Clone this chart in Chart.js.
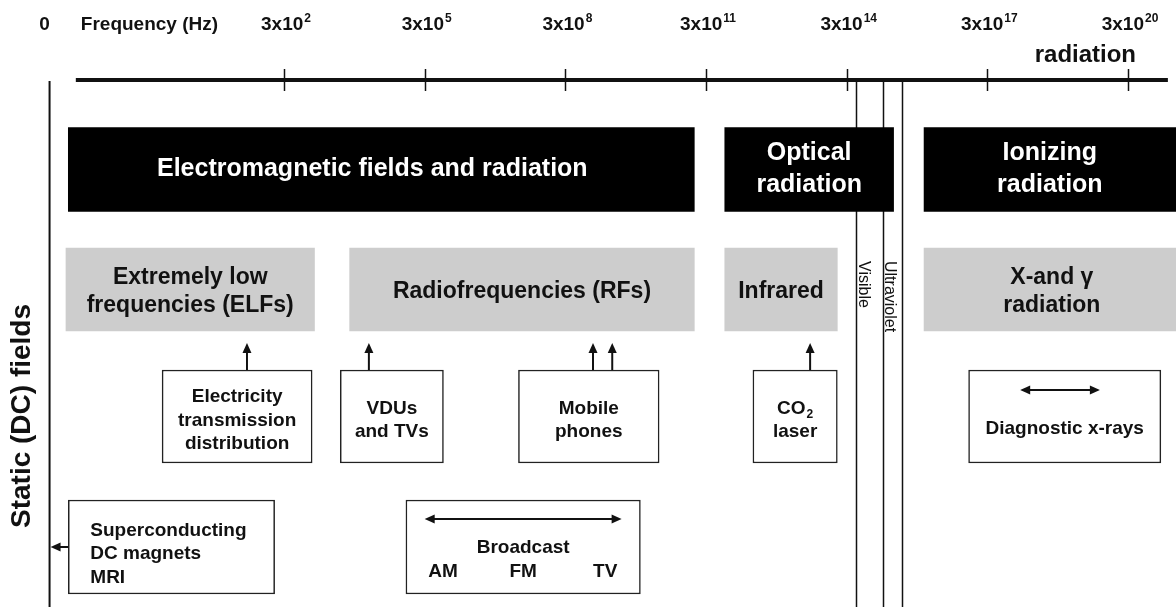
<!DOCTYPE html>
<html>
<head>
<meta charset="utf-8">
<title>Frequency spectrum</title>
<script src="https://cdn.jsdelivr.net/npm/chart.js@4.4.1/dist/chart.umd.min.js"></script>
<style>
    html, body { margin: 0; padding: 0; background: #fff; }
    #wrap { width: 1176px; height: 607px; position: relative; }
</style>
</head>
<body>
<div id="wrap"><canvas id="spectrumChart"></canvas></div>
<script>
/*==============================================================
    DATA  (x is in decades: value k stands for 3x10^k Hz)
==============================================================*/
const tickExponents = [2, 5, 8, 11, 14, 17, 20];
const tickBase = "3x10";
const dcPosition = -3;            // 0 Hz, static fields
const axisRange = [-2.44, 20.85];

const domainNames = [["Electromagnetic fields and radiation"], ["Optical", "radiation"], ["Ionizing", "radiation"]];
const domainRanges = [[-2.6, 10.75], [11.4, 15.0], [15.65, 21.1]];

const bandNames = [["Extremely low", "frequencies (ELFs)"], ["Radiofrequencies (RFs)"], ["Infrared"], ["X-and \u03b3", "radiation"]];
const bandRanges = [[-2.65, 2.65], [3.4, 10.75], [11.4, 13.8], [15.65, 21.1]];

const opticalLines = [14.2, 14.77, 15.18];
const opticalNames = ["Visible", "Ultraviolet"];

const sourceNames = [["Electricity", "transmission", "distribution"], ["VDUs", "and TVs"], ["Mobile", "phones"], ["CO_2", "laser"], ["Diagnostic x-rays"]];
const sourceRanges = [[-0.6, 2.6], [3.2, 5.4], [7.0, 10.0], [12.0, 13.8], [16.6, 20.7]];
const sourceLinks = [[1.21], [3.81], [8.59, 9.0], [13.22], []];
const sourceSpans = [null, null, null, null, [17.7, 19.4]];

const bottomNames = [["Superconducting", "DC magnets", "MRI"], ["Broadcast"]];
const bottomRanges = [[-2.6, 1.8], [4.6, 9.6]];
const broadcastNames = ["AM", "FM", "TV"];
const broadcastPositions = [5.39, 7.1, 8.85];
const broadcastSpan = [5.0, 9.2];

/*==============================================================
    LAYOUT
==============================================================*/
const FONT = "'Liberation Sans', Arial, Helvetica, sans-serif";
const X_MIN = -4.057, X_MAX = 21.023;
const rows = { axis: 80, domain: 169.5, band: 289.5, source: 416.5, bottom: 547 };
const domainNudge = [-9, 0, -2];
const INK = "#111";

/*==============================================================
    HELPERS
==============================================================*/
function drawRich(ctx, text, x, y, size, align) {
    // "a_b" -> b as subscript, "a^b" -> b as superscript
    const m = text.match(/^(.*?)([_^])(.+)$/);
    ctx.font = "bold " + size + "px " + FONT;
    if (!m) {
        ctx.textAlign = align || "center";
        ctx.fillText(text, x, y);
        return;
    }
    const small = Math.round(size * 0.62);
    const w1 = ctx.measureText(m[1]).width;
    ctx.font = "bold " + small + "px " + FONT;
    const w2 = ctx.measureText(m[3]).width;
    const left = align === "left" ? x : x - (w1 + w2 + 1) / 2;
    ctx.textAlign = "left";
    ctx.font = "bold " + size + "px " + FONT;
    ctx.fillText(m[1], left, y);
    ctx.font = "bold " + small + "px " + FONT;
    const shift = m[2] === "_" ? size * 0.3 : -size * 0.4;
    ctx.fillText(m[3], left + w1 + 1, y + shift);
}

function drawBlock(ctx, lines, x, cy, size, gap, align) {
    ctx.textBaseline = "middle";
    const top = cy - (lines.length - 1) * gap / 2;
    lines.forEach(function (t, i) { drawRich(ctx, t, x, top + i * gap, size, align); });
}

function arrowHead(ctx, x, y, dir) {
    const L = 10, W = 4.5;
    ctx.beginPath();
    if (dir === "up") { ctx.moveTo(x, y); ctx.lineTo(x - W, y + L); ctx.lineTo(x + W, y + L); }
    else if (dir === "left") { ctx.moveTo(x, y); ctx.lineTo(x + L, y - W); ctx.lineTo(x + L, y + W); }
    else { ctx.moveTo(x, y); ctx.lineTo(x - L, y - W); ctx.lineTo(x - L, y + W); }
    ctx.closePath();
    ctx.fill();
}

function line(ctx, x1, y1, x2, y2, w) {
    ctx.lineWidth = w;
    ctx.beginPath();
    ctx.moveTo(x1, y1);
    ctx.lineTo(x2, y2);
    ctx.stroke();
}

function doubleArrow(ctx, x1, x2, y) {
    line(ctx, x1 + 4, y, x2 - 4, y, 2);
    arrowHead(ctx, x1, y, "left");
    arrowHead(ctx, x2, y, "right");
}

function boxesOf(chart, index) {
    return chart.getDatasetMeta(index).data.map(function (el) {
        const p = el.getProps(["x", "y", "base", "height"], true);
        return { left: Math.min(p.x, p.base), right: Math.max(p.x, p.base), cx: (p.x + p.base) / 2, cy: p.y, top: p.y - p.height / 2, bottom: p.y + p.height / 2 };
    });
}

/*==============================================================
    AXIS + FRAME (under the bars)
==============================================================*/
const framePlugin = {
    id: "frame",
    beforeDatasetsDraw(chart) {
        const ctx = chart.ctx, xs = chart.scales.x, ys = chart.scales.y;
        const yAxis = ys.getPixelForValue(rows.axis);
        const bottom = chart.chartArea.bottom;
        ctx.save();
        ctx.strokeStyle = INK;
        ctx.fillStyle = INK;

        // frequency axis
        line(ctx, xs.getPixelForValue(axisRange[0]), yAxis, xs.getPixelForValue(axisRange[1]), yAxis, 4);
        tickExponents.forEach(function (k) {
            const px = Math.round(xs.getPixelForValue(k)) + 0.5;
            line(ctx, px, yAxis - 11, px, yAxis + 11, 1.5);
        });

        ctx.textBaseline = "alphabetic";
        tickExponents.forEach(function (k) {
            drawRich(ctx, tickBase + "^" + k, xs.getPixelForValue(k) + 2, 30, 19);
        });
        drawRich(ctx, "0", xs.getPixelForValue(dcPosition) - 5, 30, 19);
        drawRich(ctx, "Frequency (Hz)", xs.getPixelForValue(axisRange[0]) + 5, 30, 19, "left");
        ctx.font = "bold 24px " + FONT;
        ctx.textAlign = "right";
        ctx.fillText("radiation", xs.getPixelForValue(tickExponents[tickExponents.length - 1]) + 8, 62);

        // static (DC) line
        const xdc = xs.getPixelForValue(dcPosition);
        line(ctx, xdc, yAxis + 1, xdc, bottom, 2);
        ctx.save();
        ctx.translate(22, ys.getPixelForValue(416));
        ctx.rotate(-Math.PI / 2);
        ctx.font = "bold 28px " + FONT;
        ctx.textAlign = "center";
        ctx.textBaseline = "middle";
        ctx.fillText("Static (DC) fields", 0, 0);
        ctx.restore();

        // visible / ultraviolet strips
        opticalLines.forEach(function (v) {
            const px = Math.round(xs.getPixelForValue(v)) + 0.5;
            line(ctx, px, yAxis, px, bottom, 1.5);
        });
        opticalNames.forEach(function (name, i) {
            ctx.save();
            ctx.translate(xs.getPixelForValue(opticalLines[i]) + 2.5, ys.getPixelForValue(261));
            ctx.rotate(Math.PI / 2);
            ctx.font = "16px " + FONT;
            ctx.textAlign = "left";
            ctx.textBaseline = "alphabetic";
            ctx.fillText(name, 0, 0);
            ctx.restore();
        });
        ctx.restore();
    },

/*==============================================================
    LABELS + ARROWS (over the bars)
==============================================================*/
    afterDatasetsDraw(chart) {
        const ctx = chart.ctx, xs = chart.scales.x, ys = chart.scales.y;
        ctx.save();

        ctx.fillStyle = "#fff";
        boxesOf(chart, 0).forEach(function (b, i) {
            drawBlock(ctx, domainNames[i], b.cx + domainNudge[i], b.cy, 25, 32);
        });

        ctx.fillStyle = INK;
        ctx.strokeStyle = INK;
        boxesOf(chart, 1).forEach(function (b, i) {
            drawBlock(ctx, bandNames[i], b.cx, b.cy + 2.5, 23, 28);
        });
        const bandBottom = ys.getPixelForValue(rows.band) + 41.5;

        boxesOf(chart, 2).forEach(function (b, i) {
            if (sourceSpans[i]) {
                doubleArrow(ctx, xs.getPixelForValue(sourceSpans[i][0]), xs.getPixelForValue(sourceSpans[i][1]), b.top + 20);
                drawBlock(ctx, sourceNames[i], b.cx, b.cy + 12, 19, 23.5);
            } else {
                drawBlock(ctx, sourceNames[i], b.cx, b.cy + 4, 19, 23.5);
            }
            sourceLinks[i].forEach(function (v) {
                const px = xs.getPixelForValue(v);
                line(ctx, px, b.top, px, bandBottom + 16, 2);
                arrowHead(ctx, px, bandBottom + 12, "up");
            });
        });

        const bottoms = boxesOf(chart, 3);
        const sc = bottoms[0];
        drawBlock(ctx, bottomNames[0], sc.left + 22, sc.cy + 7, 19, 23.5, "left");
        const xdc = xs.getPixelForValue(dcPosition);
        line(ctx, sc.left, sc.cy, xdc + 4, sc.cy, 2);
        arrowHead(ctx, xdc + 1, sc.cy, "left");

        const bc = bottoms[1];
        doubleArrow(ctx, xs.getPixelForValue(broadcastSpan[0]), xs.getPixelForValue(broadcastSpan[1]), bc.top + 19);
        drawBlock(ctx, bottomNames[1], bc.cx, bc.cy + 1, 19, 23.5);
        broadcastNames.forEach(function (n, i) {
            drawBlock(ctx, [n], xs.getPixelForValue(broadcastPositions[i]), bc.cy + 25, 19, 0);
        });

        ctx.restore();
    }
};

/*==============================================================
    CHART
==============================================================*/
function toBars(ranges, row) {
    return ranges.map(function (r) { return { x: r, y: row }; });
}

new Chart(document.getElementById("spectrumChart"), {
    type: "bar",
    data: {
        datasets: [{
            label: "Domains",
            data: toBars(domainRanges, rows.domain),
            backgroundColor: "#000",
            borderWidth: 0,
            barThickness: 84
        }, {
            label: "Bands",
            data: toBars(bandRanges, rows.band),
            backgroundColor: "#cdcdcd",
            borderWidth: 0,
            barThickness: 83
        }, {
            label: "Sources",
            data: toBars(sourceRanges, rows.source),
            backgroundColor: "#fff",
            borderColor: "#222",
            borderWidth: 1.5,
            borderSkipped: false,
            barThickness: 93
        }, {
            label: "Applications",
            data: toBars(bottomRanges, rows.bottom),
            backgroundColor: "#fff",
            borderColor: "#222",
            borderWidth: 1.5,
            borderSkipped: false,
            barThickness: 94
        }]
    },
    options: {
        indexAxis: "y",
        responsive: true,
        maintainAspectRatio: false,
        animation: false,
        events: [],
        layout: { padding: 0 },
        datasets: { bar: { grouped: false } },
        plugins: {
            legend: { display: false },
            tooltip: { enabled: false }
        },
        scales: {
            x: { type: "linear", min: X_MIN, max: X_MAX, display: false, offset: false },
            y: { type: "linear", min: 0, max: 607, reverse: true, display: false, offset: false }
        }
    },
    plugins: [framePlugin]
});
</script>
</body>
</html>
